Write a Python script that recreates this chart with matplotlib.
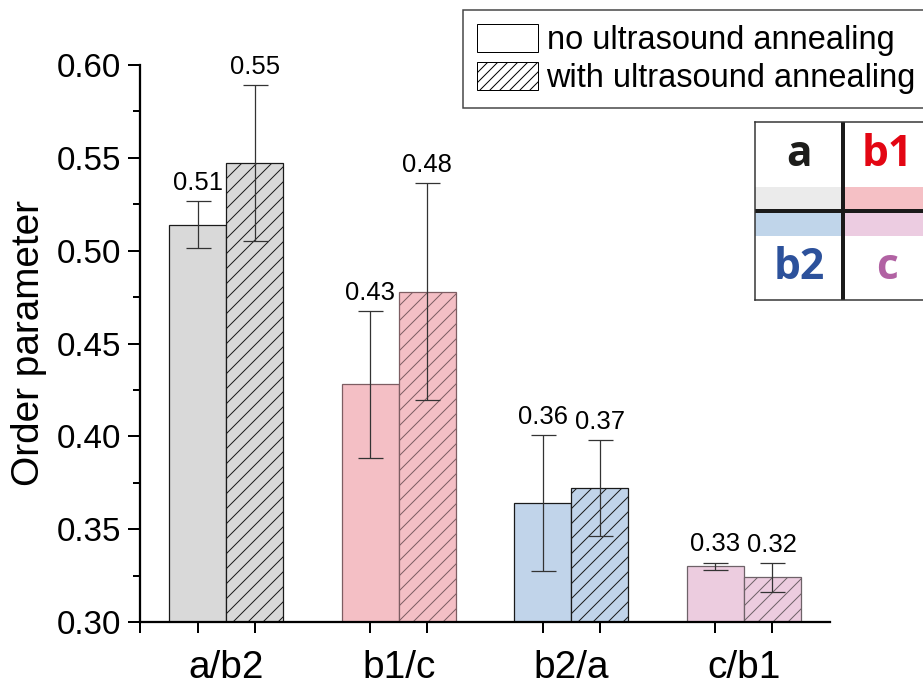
import numpy as np
import matplotlib.pyplot as plt
from matplotlib.patches import Patch, Rectangle

categories = ['a/b2', 'b1/c', 'b2/a', 'c/b1']
no_us = [0.514, 0.428, 0.364, 0.330]
no_us_err = [0.0127, 0.0396, 0.0365, 0.0020]
with_us = [0.547, 0.478, 0.372, 0.324]
with_us_err = [0.042, 0.0584, 0.0259, 0.0078]

fill_colors = ['#d9d9d9', '#f4bfc5', '#c1d4ea', '#ecccdf']
edge_colors = ['#1a1a1a', '#7d5d62', '#1a1a1a', '#6e6268']

inset_letters = ['a', 'b1', 'b2', 'c']
inset_letter_colors = ['#1d1d1b', '#e30613', '#2c519b', '#b162a3']
inset_strip_colors = ['#ebebeb', '#f5c0c5', '#c0d5ea', '#eccce1']

plt.rcParams['font.family'] = ['Liberation Sans', 'DejaVu Sans']
plt.rcParams['hatch.linewidth'] = 0.8

DPI = 90
W, H = 923, 684
fig = plt.figure(figsize=(W / DPI, H / DPI), dpi=DPI)
ax = fig.add_axes([140 / W, 62 / H, 690 / W, 557 / H])

x = np.arange(1, len(categories) + 1)
w = 0.33
err_kw = dict(ecolor='#333333', elinewidth=1.0, capsize=10, capthick=1.0)

ax.bar(x - w / 2, no_us, w, color=fill_colors, edgecolor=edge_colors,
       linewidth=1.0, yerr=no_us_err, error_kw=err_kw)
ax.bar(x + w / 2, with_us, w, color=fill_colors, edgecolor=edge_colors,
       linewidth=1.0, hatch='//', yerr=with_us_err, error_kw=err_kw)

for xs, vals, errs in [(x - w / 2, no_us, no_us_err), (x + w / 2, with_us, with_us_err)]:
    for xi, v, e in zip(xs, vals, errs):
        ax.annotate(f'{v:.2f}', (xi, v + e), xytext=(0, 5), textcoords='offset points',
                    ha='center', va='bottom', fontsize=20.5)

ax.set_xlim(0.5, 4.5)
ax.set_ylim(0.30, 0.60)
ax.set_yticks(np.arange(0.30, 0.601, 0.05))
ax.set_yticklabels([f'{t:.2f}' for t in np.arange(0.30, 0.601, 0.05)])
ax.set_yticks(np.arange(0.325, 0.60, 0.05), minor=True)

ax.set_xticks(np.concatenate([[0.5], np.sort(np.concatenate([x - w / 2, x + w / 2]))]))
ax.set_xticklabels([])
ax.set_xticks(x, categories, minor=True)

ax.tick_params(axis='y', which='major', direction='out', length=10, width=1.6,
               labelsize=26.5, pad=5)
ax.tick_params(axis='y', which='minor', direction='out', length=5.5, width=1.6)
ax.tick_params(axis='x', which='major', direction='out', length=9, width=1.6)
ax.tick_params(axis='x', which='minor', length=0, labelsize=31, pad=22)

for side in ['top', 'right']:
    ax.spines[side].set_visible(False)
for side in ['left', 'bottom']:
    ax.spines[side].set_linewidth(1.8)

ax.set_ylabel('Order parameter', fontsize=31, labelpad=8)

handles = [Patch(facecolor='white', edgecolor='black', linewidth=0.8),
           Patch(facecolor='white', edgecolor='black', linewidth=0.8, hatch='///')]
leg = fig.legend(handles, ['no ultrasound annealing', 'with ultrasound annealing'],
                 loc='upper left', bbox_to_anchor=(463 / W, 1 - 10 / H),
                 fontsize=26, frameon=True, fancybox=False, edgecolor='#444444',
                 framealpha=1, handlelength=1.9, handleheight=0.95,
                 handletextpad=0.25, borderpad=0.42, labelspacing=0.18,
                 borderaxespad=0)
leg.get_frame().set_linewidth(1.2)

# inset key showing the four groups
iax = fig.add_axes([755 / W, (H - 300) / H, 176 / W, 178 / H])
iax.set_xlim(0, 2)
iax.set_ylim(0, 2)
iax.set_xticks([])
iax.set_yticks([])
for s in iax.spines.values():
    s.set_linewidth(1.2)
    s.set_color('#333333')

cells = [(0, 1), (1, 1), (0, 0), (1, 0)]
for (cx, cy), letter, lc, sc in zip(cells, inset_letters, inset_letter_colors, inset_strip_colors):
    if cy == 1:
        iax.add_patch(Rectangle((cx, 1), 1, 0.27, color=sc, lw=0))
        ty = 1.63
    else:
        iax.add_patch(Rectangle((cx, 0.72), 1, 0.28, color=sc, lw=0))
        ty = 0.36
    iax.text(cx + 0.5, ty, letter, color=lc, fontsize=34, fontweight='bold',
             family='Open Sans', ha='center', va='center')
iax.axvline(1, color='#1a1a1a', lw=3.2)
iax.axhline(1, color='#1a1a1a', lw=3.2)

fig.savefig('out.png', dpi=DPI)
